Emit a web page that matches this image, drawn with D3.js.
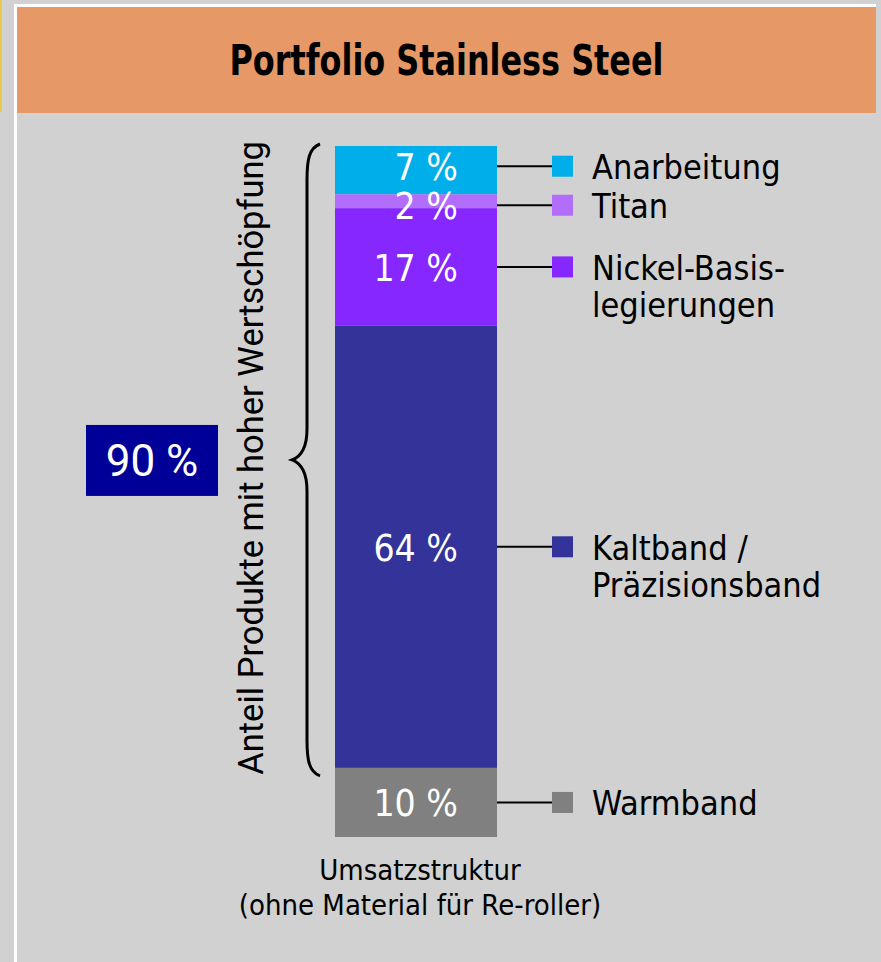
<!DOCTYPE html>
<html>
<head>
<meta charset="utf-8">
<script src="https://cdn.jsdelivr.net/npm/d3@7"></script>
<style>
  html, body { margin: 0; padding: 0; background: #d1d1d1; }
  svg { display: block; }
</style>
</head>
<body>
<div id="chart"></div>
<script>
// chart data
var title = "Portfolio Stainless Steel"
var categories = ["Anarbeitung", "Titan", "Nickel-Basis-legierungen", "Kaltband / Präzisionsband", "Warmband"]
var legendLines = [["Anarbeitung"], ["Titan"], ["Nickel-Basis-", "legierungen"], ["Kaltband /", "Präzisionsband"], ["Warmband"]]
var shares = [7, 2, 17, 64, 10]
var colors = ["#00aeea", "#b26dfb", "#8527fe", "#333399", "#808080"]
var highValueShare = 90
var highValueLabel = "Anteil Produkte mit hoher Wertschöpfung"
var barCaption = ["Umsatzstruktur", "(ohne Material für Re-roller)"]

var W = 881, H = 962
var condensed = "'Liberation Sans Narrow', 'DejaVu Sans Condensed', Roboto, sans-serif"
var plain = "Roboto, 'Liberation Sans', Arial, sans-serif"

var svg = d3.select("#chart").append("svg")
    .attr("width", W)
    .attr("height", H)

// frame
svg.append("rect").attr("x", 0).attr("y", 0).attr("width", W).attr("height", H).attr("fill", "#d1d1d1")
svg.append("rect").attr("x", 0).attr("y", 0).attr("width", 2).attr("height", 112).attr("fill", "#e8c94a")
svg.append("path")
    .attr("d", "M15.5," + H + " V5.5 H876")
    .attr("fill", "none").attr("stroke", "#ffffff").attr("stroke-width", 3)
svg.append("rect").attr("x", 17).attr("y", 7).attr("width", 859).attr("height", 106).attr("fill", "#e69866")
svg.append("text")
    .attr("x", 446.5).attr("y", 75)
    .attr("text-anchor", "middle")
    .attr("textLength", 434).attr("lengthAdjust", "spacingAndGlyphs")
    .style("font-family", condensed).style("font-weight", "bold").style("font-size", "42px")
    .text(title)

// stack the single bar
var row = {}
categories.forEach(function(c, i) { row[c] = shares[i] })
var stacked = d3.stack().keys(categories)([row])

var y = d3.scaleLinear().domain([0, 100]).range([146, 837])
var x = d3.scaleBand().domain(["bar"]).range([335, 497]).padding(0)

var bar = svg.append("g")
bar.selectAll("rect")
    .data(stacked)
    .enter()
    .append("rect")
    .attr("x", x("bar"))
    .attr("width", x.bandwidth())
    .attr("y", function(d) { return y(d[0][0]) })
    .attr("height", function(d) { return y(d[0][1]) - y(d[0][0]) })
    .attr("fill", function(d, i) { return colors[i] })

// label anchors: segment middles, pushed apart where they are too close
var minGap = 39
var anchors = stacked.map(function(d) { return y((d[0][0] + d[0][1]) / 2) })
for (var i = 0; i < anchors.length - 1; i++) {
    var gap = anchors[i + 1] - anchors[i]
    if (gap < minGap) {
        anchors[i] -= (minGap - gap) / 2
        anchors[i + 1] += (minGap - gap) / 2
    }
}
function mid(d, i) { return anchors[i] }

// value labels
bar.selectAll("text")
    .data(stacked)
    .enter()
    .append("text")
    .attr("x", 458)
    .attr("y", function(d, i) { return mid(d, i) + 14 })
    .attr("text-anchor", "end")
    .attr("fill", "#ffffff")
    .style("font-family", condensed).style("font-size", "37px")
    .text(function(d, i) { return shares[i] + " %" })

// leader lines + legend
var legend = svg.append("g")
legend.selectAll("line")
    .data(stacked)
    .enter()
    .append("line")
    .attr("x1", x("bar") + x.bandwidth())
    .attr("x2", 553)
    .attr("y1", mid).attr("y2", mid)
    .attr("stroke", "#000").attr("stroke-width", 2)

legend.selectAll("rect")
    .data(stacked)
    .enter()
    .append("rect")
    .attr("x", 552).attr("width", 21)
    .attr("y", function(d, i) { return mid(d, i) - 10.5 }).attr("height", 21)
    .attr("fill", function(d, i) { return colors[i] })

legend.selectAll("text")
    .data(stacked)
    .enter()
    .append("text")
    .attr("x", 592)
    .attr("y", function(d, i) { return mid(d, i) + 13 })
    .style("font-family", condensed).style("font-size", "34px")
    .each(function(d, i) {
        var t = d3.select(this)
        legendLines[i].forEach(function(line, j) {
            t.append("tspan").attr("x", 592).attr("dy", j === 0 ? 0 : 37).text(line)
        })
    })

// curly brace over the high value share
var bx = 307, by0 = y(0) - 2, by1 = y(highValueShare) + 8, bm = (by0 + by1) / 2
var brace = "M" + (bx + 13) + "," + by0 +
    " C" + (bx + 2) + "," + (by0 + 4) + " " + bx + "," + (by0 + 16) + " " + bx + "," + (by0 + 36) +
    " L" + bx + "," + (bm - 31) +
    " C" + bx + "," + (bm - 11) + " " + (bx - 7) + "," + (bm - 3) + " " + (bx - 15) + "," + bm +
    " C" + (bx - 7) + "," + (bm + 3) + " " + bx + "," + (bm + 11) + " " + bx + "," + (bm + 31) +
    " L" + bx + "," + (by1 - 36) +
    " C" + bx + "," + (by1 - 16) + " " + (bx + 2) + "," + (by1 - 4) + " " + (bx + 13) + "," + by1
svg.append("path")
    .attr("d", brace)
    .attr("fill", "none").attr("stroke", "#000").attr("stroke-width", 3)

svg.append("text")
    .attr("transform", "translate(263," + (bm - 2) + ") rotate(-90)")
    .attr("text-anchor", "middle")
    .style("font-family", plain).style("font-size", "34.5px")
    .text(highValueLabel)

// 90 % box
svg.append("rect")
    .attr("x", 86).attr("y", bm - 35).attr("width", 132).attr("height", 71)
    .attr("fill", "#000099")
svg.append("text")
    .attr("x", 152).attr("y", bm + 16)
    .attr("text-anchor", "middle")
    .attr("fill", "#ffffff")
    .style("font-family", plain).style("font-size", "44px")
    .text(highValueShare + " %")

// caption under the bar
svg.append("text")
    .attr("x", 420).attr("y", 880)
    .attr("text-anchor", "middle")
    .style("font-family", condensed).style("font-size", "29px")
    .selectAll("tspan")
    .data(barCaption)
    .enter()
    .append("tspan")
    .attr("x", 420)
    .attr("dy", function(d, i) { return i === 0 ? 0 : 35 })
    .text(function(d) { return d })
</script>
</body>
</html>
